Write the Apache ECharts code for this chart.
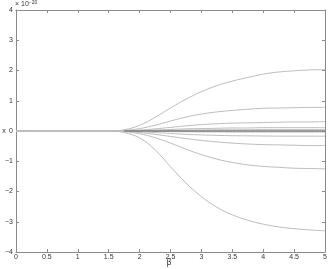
<!DOCTYPE html>
<html><head><meta charset="utf-8">
<script src="https://cdn.jsdelivr.net/npm/echarts@6/dist/echarts.min.js"></script>
<style>html,body{margin:0;padding:0;background:#fff}#c{width:328px;height:269px}</style>
</head><body><div id="c"></div>
<script>
// beta sample points
var betas = [0,0.5,1,1.5,1.75,2,2.25,2.5,2.75,3,3.25,3.5,3.75,4,4.25,4.5,4.75,5];
// curve values (units of 1e-20)
var curveA = [0,0,0,0,0.04,0.19,0.45,0.76,1.05,1.3,1.5,1.65,1.77,1.88,1.95,1.99,2.02,2.03];
var curveB = [0,0,0,0,0.02,0.08,0.19,0.33,0.46,0.56,0.63,0.68,0.72,0.75,0.76,0.77,0.78,0.78];
var curveC = [0,0,0,0,0.01,0.03,0.07,0.12,0.17,0.21,0.24,0.26,0.27,0.28,0.29,0.30,0.30,0.31];
var curveD = [0,0,0,0,0,0.01,0.03,0.05,0.07,0.08,0.09,0.10,0.10,0.11,0.11,0.11,0.11,0.11];
var curveE = [0,0,0,0,0,0.005,0.01,0.02,0.03,0.035,0.04,0.04,0.04,0.045,0.045,0.045,0.045,0.045];
var curveF = [0,0,0,0,0,-0.005,-0.01,-0.02,-0.025,-0.03,-0.03,-0.035,-0.035,-0.035,-0.035,-0.035,-0.035,-0.035];
var curveG = [0,0,0,0,0,-0.02,-0.05,-0.08,-0.11,-0.13,-0.145,-0.155,-0.16,-0.165,-0.17,-0.17,-0.17,-0.17];
var curveH = [0,0,0,0,-0.01,-0.05,-0.11,-0.18,-0.25,-0.31,-0.36,-0.40,-0.43,-0.45,-0.46,-0.47,-0.48,-0.48];
var curveI = [0,0,0,0,-0.02,-0.09,-0.22,-0.40,-0.60,-0.78,-0.93,-1.04,-1.12,-1.17,-1.20,-1.23,-1.24,-1.25];
var curveJ = [0,0,0,0,-0.05,-0.23,-0.62,-1.18,-1.72,-2.17,-2.52,-2.77,-2.95,-3.08,-3.17,-3.23,-3.27,-3.30];
// dark overlapping band near zero (starts after beta = 1.5)
var bandCurve = [null,null,null,null,0,0,0,0,0,0,0,0,0,0,0,0,0,0];
var xTicks = [0,0.5,1,1.5,2,2.5,3,3.5,4,4.5,5];
var yTicks = [-4,-3,-2,-1,0,1,2,3,4];

var curves = [curveA,curveB,curveC,curveD,curveE,curveF,curveG,curveH,curveI,curveJ];
function pairs(arr){ return betas.map(function(b,i){ return arr[i]===null?null:[b,arr[i]]; }).filter(function(p){return p!==null;}); }
var font = 'Liberation Sans';
var axisColor = '#8a8a8a';
var series = curves.map(function(c){
  return {type:'line', data:pairs(c), showSymbol:false, smooth:0.4,
    lineStyle:{color:'#bdbdbd', width:1}, silent:true, z:2};
});
series.push({type:'line', data:pairs(bandCurve), showSymbol:false,
  lineStyle:{color:'#808080', width:1.5}, silent:true, z:3});

var chart = echarts.init(document.getElementById('c'), null, {renderer:'canvas'});
function fmt(v){ return (v<0?'\u2212':'') + Math.abs(v); }
chart.setOption({
  animation:false,
  backgroundColor:'#fff',
  grid:{left:16, right:3, top:10, bottom:17, show:false, containLabel:false, outerBoundsMode:'none'},
  xAxis:[{type:'value', min:xTicks[0], max:xTicks[xTicks.length-1], interval:0.5,
    axisLine:{onZero:false, lineStyle:{color:axisColor,width:1}},
    axisTick:{inside:true,length:3,lineStyle:{color:axisColor}},
    axisLabel:{fontSize:7, fontFamily:font, color:'#333', margin:2, formatter:function(v){return String(v);}},
    splitLine:{show:false}},
   {type:'value', position:'top', min:0, max:5, interval:0.5,
    axisLine:{onZero:false, lineStyle:{color:axisColor}}, axisTick:{inside:true,length:3,lineStyle:{color:axisColor}},
    axisLabel:{show:false}, splitLine:{show:false}}],
  yAxis:[{type:'value', min:yTicks[0], max:yTicks[yTicks.length-1], interval:1,
    axisLine:{onZero:false, lineStyle:{color:axisColor,width:1}},
    axisTick:{inside:true,length:3,lineStyle:{color:axisColor}},
    axisLabel:{fontSize:7, fontFamily:font, color:'#333', margin:3, formatter:fmt},
    splitLine:{show:false}},
   {type:'value', position:'right', min:-4, max:4, interval:1,
    axisLine:{onZero:false, lineStyle:{color:axisColor}}, axisTick:{inside:true,length:3,lineStyle:{color:axisColor}},
    axisLabel:{show:false}, splitLine:{show:false}}],
  series:series,
  graphic:[
   {type:'text', left:15, top:0, style:{
    text:'{a|\u00d7 10}{b|\u221220}', rich:{a:{fontSize:7, fontFamily:font, fill:'#333'}, b:{fontSize:5, fontFamily:font, fill:'#333', verticalAlign:'top', padding:[0,0,4,0]}}}},
   {type:'text', x:169, y:263, style:{text:'\u03b2', fontSize:8, fontFamily:'DejaVu Sans', fill:'#333', align:'center', verticalAlign:'middle'}},
   {type:'text', x:4, y:131, style:{text:'x', fontSize:7, fontFamily:font, fill:'#333', align:'center', verticalAlign:'middle'}}
  ]
});
</script></body></html>
